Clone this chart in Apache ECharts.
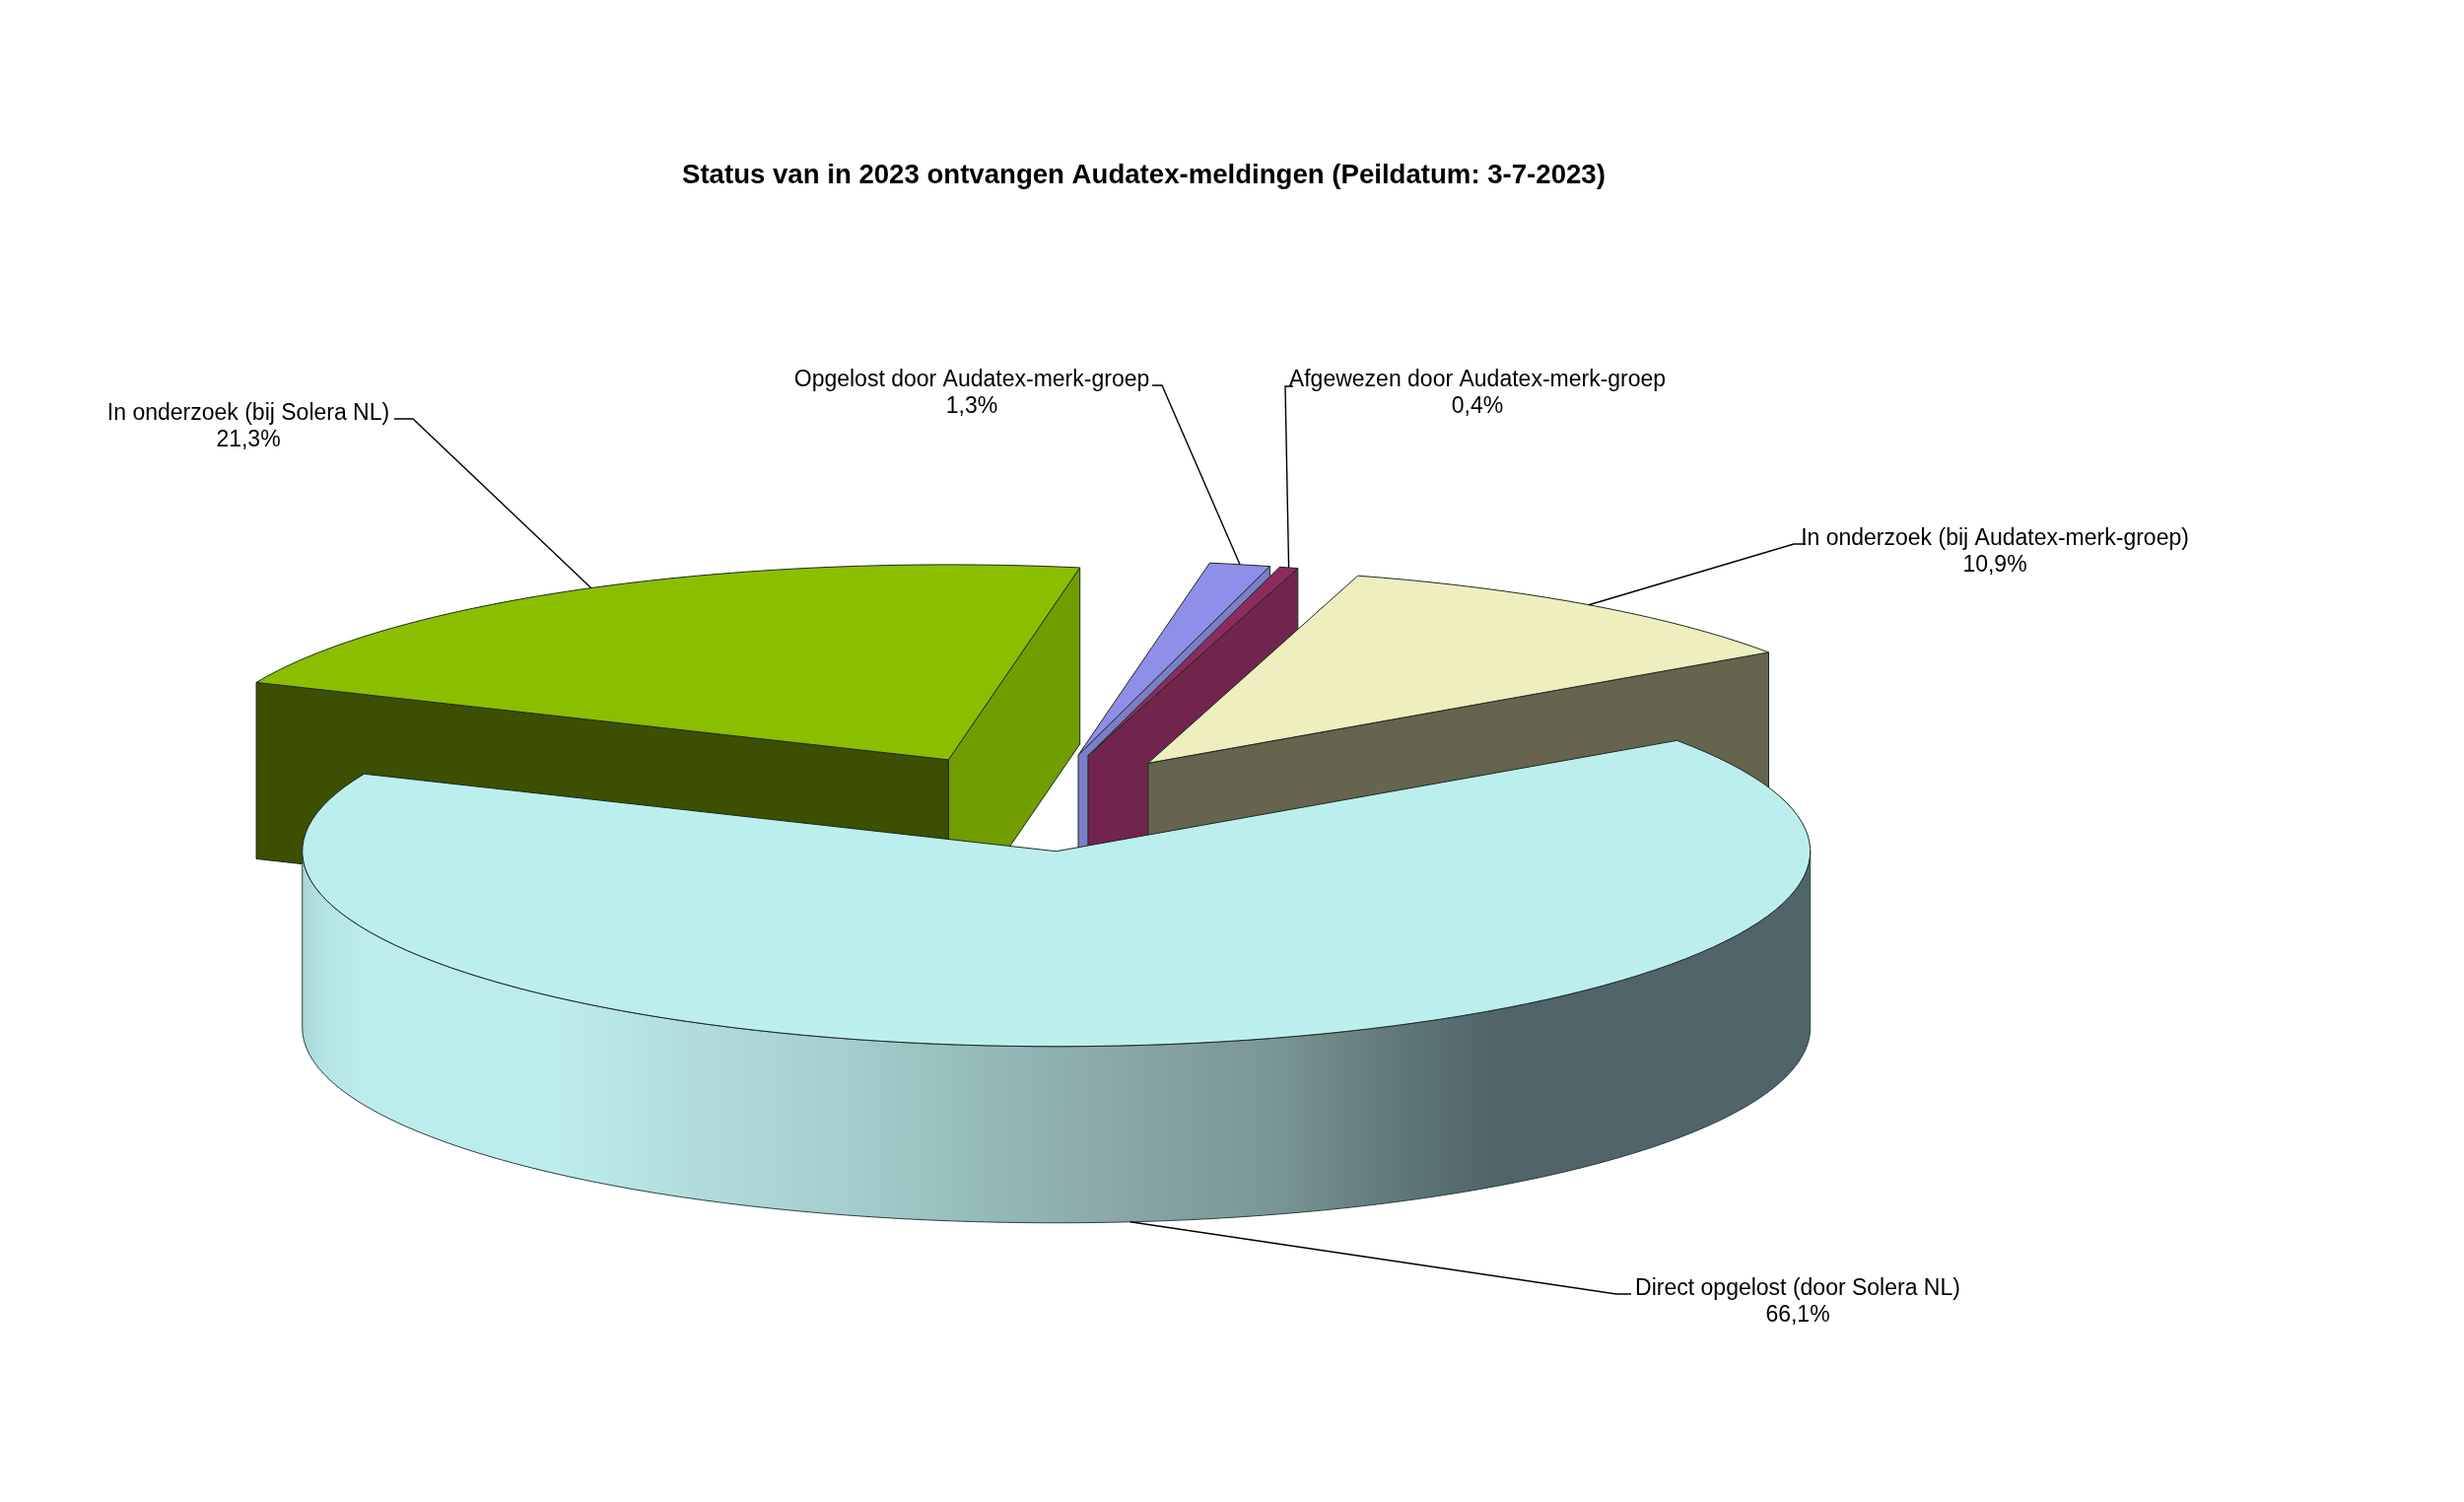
<!DOCTYPE html>
<html><head><meta charset="utf-8">
<style>html,body{margin:0;padding:0;background:#fff}#c{width:2500px;height:1524px}</style>
<script src="https://cdn.jsdelivr.net/npm/echarts@6/dist/echarts.min.js"></script>
</head><body><div id="c"></div>
<script>
// Data
const categories = ['In onderzoek (bij Audatex-merk-groep)','Afgewezen door Audatex-merk-groep','Opgelost door Audatex-merk-groep','In onderzoek (bij Solera NL)','Direct opgelost (door Solera NL)'];
const values = [10.9, 0.4, 1.3, 21.3, 66.1];
const titleText = 'Status van in 2023 ontvangen Audatex-meldingen (Peildatum: 3-7-2023)';
// Styles
const topColors = ['#eeeebe','#8c2b60','#8f8fe9','#8cbe00','#bdeeee'];
const wallColors = ['#66644e','#72254c','#7a7fc8','#729d00','#bdeeee'];
const leftWallColors = ['#66644e','#72254c','#7a7fc8','#3d4f00','#bdeeee'];
const wallStops = [[0,'#a9d6d6'],[0.015,'#b5e4e4'],[0.04,'#bdecec'],[0.17,'#bdecec'],[0.26,'#b2dcdc'],[0.36,'#a5cdcd'],[0.46,'#94b8b8'],[0.52,'#8dacac'],[0.58,'#84a0a0'],[0.645,'#7a9595'],[0.72,'#627a7b'],[0.79,'#50646a'],[1,'#50646a']];
// 3D-pie projection
const geo = {cx:1053, cy:814.5, rx:765, ry:198, depth:179, explode:0.25, startDeg:34.6};
// Label layout: centre of text, stub [from x, to x, y]
const labelPos = [
  {x:2024,y:546,stub:[1832,1820,552],wall:false},
  {x:1499,y:385,stub:[1312,1304,392],wall:false},
  {x:986,y:385,stub:[1169,1179,391],wall:false},
  {x:252,y:419,stub:[400,419,425],wall:false},
  {x:1824,y:1307,stub:[1655,1640,1313],wall:true}
];
const paintOrder = [3,2,1,0,4];
const LABEL_FS = 23;

const rad = d => d*Math.PI/180;
let acc = geo.startDeg;
const slices = values.map((v,i)=>{
  const a0 = acc; const a1 = acc + v/100*360; acc = a1;
  const mid = rad((a0+a1)/2);
  return {i, v, a0, a1, ox: geo.cx + geo.explode*geo.rx*Math.cos(mid), oy: geo.cy - geo.explode*geo.ry*Math.sin(mid)};
});
const rim = (s,deg,dz=0)=>[s.ox+geo.rx*Math.cos(rad(deg)), s.oy-geo.ry*Math.sin(rad(deg))+dz];
const arc = (s,a,b,dz=0)=>{const n=Math.max(2,Math.ceil(Math.abs(b-a)/2));const p=[];for(let k=0;k<=n;k++)p.push(rim(s,a+(b-a)*k/n,dz));return p;};
const stroke = {stroke:'#1a2a22', lineWidth:1};

function renderSlice(params, api){
  const s = slices[api.value(0)];
  const i = s.i, ch = [];
  const poly = (points,fill,st)=>ch.push({type:'polygon',shape:{points},style:Object.assign({fill},stroke,st||{})});
  const A=[s.ox,s.oy], Ad=[s.ox,s.oy+geo.depth];
  if(Math.cos(rad(s.a1))<0){ const c=rim(s,s.a1),cd=rim(s,s.a1,geo.depth); poly([A,c,cd,Ad],leftWallColors[i]); }
  if(Math.cos(rad(s.a0))>0){ const c=rim(s,s.a0),cd=rim(s,s.a0,geo.depth); poly([A,c,cd,Ad],wallColors[i]); }
  const from=Math.max(s.a0,180), to=Math.min(s.a1,360);
  if(to>from){
    const up=arc(s,from,to), down=arc(s,to,from,geo.depth);
    const x0=s.ox-geo.rx, w=2*geo.rx;
    poly(up.concat(down),{type:'linear',x:x0,y:0,x2:x0+w,y2:0,global:true,colorStops:wallStops.map(([offset,color])=>({offset,color}))},{stroke:'#2c4040'});
  }
  poly([A].concat(arc(s,s.a0,s.a1)),topColors[i]);
  const L=labelPos[i], midDeg=(s.a0+s.a1)/2, anchor=rim(s,midDeg,L.wall?geo.depth:0);
  ch.push({type:'polyline',shape:{points:[[L.stub[0],L.stub[2]],[L.stub[1],L.stub[2]],anchor]},style:{fill:null,stroke:'#000',lineWidth:1.4}});
  ch.push({type:'text',style:{text:categories[i]+'\n'+String(s.v).replace('.',',')+'%',x:L.x,y:L.y,align:'center',verticalAlign:'top',
    fontFamily:'Liberation Sans',fontSize:LABEL_FS,lineHeight:27,fill:'#000'},y:-13});
  return {type:'group',children:ch};
}
const chart = echarts.init(document.getElementById('c'),null,{renderer:'canvas',width:2500,height:1524});
chart.setOption({
  animation:false,
  backgroundColor:'#fff',
  title:{text:titleText,left:687,top:159,textStyle:{fontFamily:'Liberation Sans',fontWeight:'bold',fontSize:27.6,color:'#000'}},
  series:[{type:'custom',coordinateSystem:'none',silent:true,data:paintOrder.map(i=>[i]),renderItem:renderSlice,clip:false}]
});
</script></body></html>
